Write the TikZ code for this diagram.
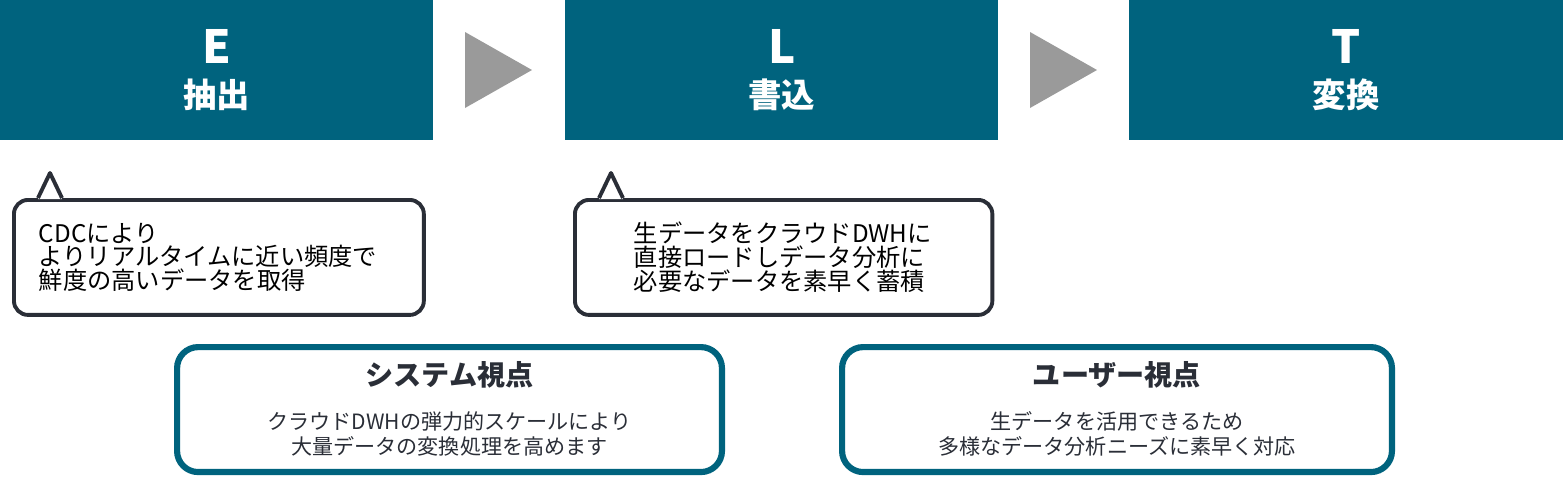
\documentclass[tikz,border=0pt]{standalone}
\usepackage{fontspec}
\setmainfont{Noto Sans CJK JP}
\usetikzlibrary{positioning, calc}
\definecolor{headteal}{HTML}{00637E}
\definecolor{inkdark}{HTML}{2A2E37}
\definecolor{arrowgray}{HTML}{9A9A9A}

\begin{document}
\begin{tikzpicture}[
    x=0.02cm, y=-0.02cm,
    head/.style={rectangle, fill=headteal, text=white, minimum width=8.66cm, minimum height=2.8cm, align=center, inner sep=0pt, font=\bfseries},
    callout/.style={rectangle, draw=inkdark, line width=2.2pt, fill=white, rounded corners=8pt, text width=7.2cm, minimum height=2.3cm, align=left, inner xsep=0.5cm, font=\fontsize{13.8}{11.7}\selectfont},
    viewbox/.style={rectangle, draw=headteal, line width=3.5pt, rounded corners=12pt, minimum width=10.9cm, minimum height=2.5cm, inner sep=0pt},
    tip/.style={fill=arrowgray}
]
\useasboundingbox (0,0) rectangle (1563,481);

% Headers
\node[head, anchor=north west] (ext) at (0,0) {\fontsize{26}{30}\selectfont E\\[8pt]\fontsize{19}{22}\selectfont 抽出};
\node[head, anchor=north west] (load) at (565,0) {\fontsize{26}{30}\selectfont L\\[8pt]\fontsize{19}{22}\selectfont 書込};
\node[head, anchor=north west, minimum width=8.68cm] (trans) at (1129,0) {\fontsize{26}{30}\selectfont T\\[8pt]\fontsize{19}{22}\selectfont 変換};

% Arrows between phases
\coordinate (t1) at (465,32);
\fill[tip] (t1) -- ++(0,76) -- ++(67,-38) -- cycle;
\coordinate (t2) at (1030,32);
\fill[tip] (t2) -- ++(0,76) -- ++(67,-38) -- cycle;

% Callouts
\node[callout, anchor=north west] (callE) at (12,198) {CDCにより\\よりリアルタイムに近い頻度で\\鮮度の高いデータを取得};
\fill[white] ($(callE.north west)+(26,1)$) -- ($(callE.north west)+(38,-25)$) -- ($(callE.north west)+(50,1)$) -- cycle;
\draw[inkdark, line width=2.2pt, line join=round] ($(callE.north west)+(26,0)$) -- ($(callE.north west)+(38,-25)$) -- ($(callE.north west)+(50,0)$);

\node[callout, anchor=north west, text width=7.35cm] (callL) at (573,198) {\hspace*{1.4em}生データをクラウドDWHに\\\hspace*{1.4em}直接ロードしデータ分析に\\\hspace*{1.4em}必要なデータを素早く蓄積};
\fill[white] ($(callL.north west)+(26,1)$) -- ($(callL.north west)+(38,-25)$) -- ($(callL.north west)+(50,1)$) -- cycle;
\draw[inkdark, line width=2.2pt, line join=round] ($(callL.north west)+(26,0)$) -- ($(callL.north west)+(38,-25)$) -- ($(callL.north west)+(50,0)$);

% Viewpoint boxes
\node[viewbox, anchor=north west] (sysview) at (174,344) {};
\node[font=\fontsize{16}{18}\selectfont\bfseries, text=inkdark] (systitle) at ($(sysview.north)+(0,31)$) {システム視点};
\node[font=\fontsize{12}{14.5}\selectfont, text=inkdark, align=center] (systext) at ($(sysview.north)+(0,90)$) {クラウドDWHの弾力的スケールにより\\大量データの変換処理を高めます};

\node[viewbox, anchor=north west, minimum width=11cm] (userview) at (839,344) {};
\node[font=\fontsize{16}{18}\selectfont\bfseries, text=inkdark] (usertitle) at ($(userview.north)+(0,31)$) {ユーザー視点};
\node[font=\fontsize{12}{14.5}\selectfont, text=inkdark, align=center] (usertext) at ($(userview.north)+(0,90)$) {生データを活用できるため\\多様なデータ分析ニーズに素早く対応};

\end{tikzpicture}
\end{document}
